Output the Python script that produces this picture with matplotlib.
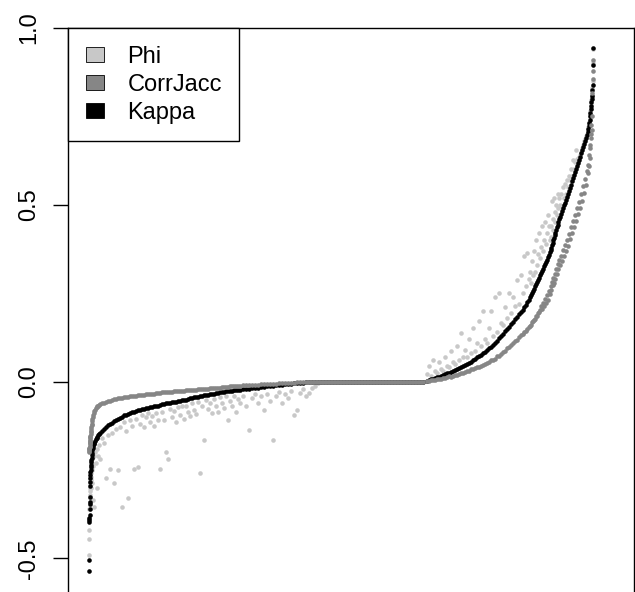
import matplotlib
matplotlib.use("Agg")
import matplotlib.pyplot as plt
from matplotlib.patches import Patch

plt.rcParams['font.family'] = ['Liberation Sans', 'DejaVu Sans']

# ---------------- data (pairs sorted by Kappa; x = rank) ----------------
rank = ([0, 1, 2, 3, 4, 5, 6, 7, 8, 9, 10, 11, 12, 13, 14, 15]
        + [17, 19, 21, 23, 25, 27]
        + [30, 33, 37, 42, 47, 53, 60, 67, 75, 83, 92, 101, 110]
        + list(range(130, 1511, 20))
        + list(range(1540, 2291, 30))
        + list(range(2320, 3341, 30))
        + list(range(3380, 4321, 20))
        + list(range(4335, 4411, 15))
        + list(range(4420, 4611, 10))
        + [4617, 4623, 4630, 4636, 4643, 4650, 4656, 4663, 4670, 4677, 4685, 4693, 4701]
        + list(range(4710, 4981, 10))
        + [4987, 4993, 4998, 5002, 5006, 5010, 5013, 5016, 5019, 5022, 5025, 5028]
        + [5034, 5037, 5040, 5043])

kappa_neg = [
    -0.536, -0.505, -0.398, -0.391, -0.385, -0.379, -0.360, -0.347, -0.340, -0.328,
    -0.296, -0.283, -0.272, -0.264, -0.257, -0.250,
    -0.243, -0.236, -0.229, -0.222, -0.215, -0.208,
    -0.201, -0.195, -0.189, -0.183, -0.178, -0.173, -0.168, -0.164, -0.160, -0.156,
    -0.152, -0.148, -0.145,
    -0.139, -0.134, -0.129, -0.124, -0.120, -0.116, -0.112, -0.108, -0.105, -0.102,
    -0.099, -0.096, -0.094, -0.091, -0.089, -0.087, -0.085, -0.083, -0.081, -0.080,
    -0.078, -0.077, -0.075, -0.074, -0.073, -0.071, -0.070, -0.069, -0.068, -0.066,
    -0.065, -0.064, -0.062, -0.061, -0.060, -0.059, -0.058, -0.057, -0.055, -0.054,
    -0.053, -0.052, -0.051, -0.049, -0.048, -0.047, -0.045, -0.044, -0.043, -0.042,
    -0.040, -0.039, -0.038, -0.037, -0.036, -0.035, -0.034, -0.033, -0.032, -0.031,
    -0.030, -0.029, -0.028, -0.027, -0.027, -0.026, -0.025, -0.024, -0.024, -0.023,
    -0.022, -0.021, -0.020, -0.019, -0.018, -0.017, -0.016, -0.015, -0.014, -0.013,
    -0.012, -0.011, -0.010, -0.009, -0.008, -0.007, -0.006, -0.005, -0.004, -0.004,
    -0.003, -0.002, -0.002, -0.001, -0.001, 0.000]

corrjacc_neg = [
    -0.200, -0.196, -0.192, -0.190, -0.187, -0.184, -0.181, -0.178, -0.175, -0.172,
    -0.168, -0.165, -0.161, -0.157, -0.153, -0.149,
    -0.144, -0.139, -0.134, -0.129, -0.124, -0.119,
    -0.113, -0.107, -0.101, -0.095, -0.089, -0.084, -0.080, -0.076, -0.073, -0.070,
    -0.068, -0.066, -0.064,
    -0.062, -0.060, -0.058, -0.056, -0.054, -0.052, -0.050, -0.049, -0.048, -0.047,
    -0.046, -0.045, -0.044, -0.043, -0.042, -0.041, -0.040, -0.040, -0.039, -0.038,
    -0.038, -0.037, -0.036, -0.036, -0.035, -0.034, -0.034, -0.033, -0.033, -0.032,
    -0.031, -0.031, -0.030, -0.030, -0.029, -0.029, -0.028, -0.028, -0.027, -0.027,
    -0.026, -0.026, -0.025, -0.025, -0.024, -0.024, -0.023, -0.023, -0.022, -0.022,
    -0.021, -0.021, -0.020, -0.020, -0.019, -0.019, -0.018, -0.018, -0.017, -0.017,
    -0.016, -0.016, -0.015, -0.015, -0.014, -0.014, -0.013, -0.013, -0.012, -0.012,
    -0.011, -0.011, -0.010, -0.010, -0.009, -0.009, -0.008, -0.008, -0.007, -0.007,
    -0.006, -0.006, -0.005, -0.005, -0.004, -0.004, -0.003, -0.003, -0.002, -0.002,
    -0.002, -0.001, -0.001, -0.001, 0.000, 0.000]

phi_neg = [
    -0.490, -0.446, -0.420, -0.390, -0.360, -0.350, -0.340, -0.330, -0.320, -0.310,
    -0.300, -0.290, -0.285, -0.280, -0.275, -0.270,
    -0.300, -0.260, -0.280, -0.240, -0.250, -0.230,
    -0.288, -0.220, -0.240, -0.335, -0.210, -0.354, -0.200, -0.230, -0.190, -0.300,
    -0.210, -0.180, -0.220,
    -0.160, -0.175, -0.273, -0.150, -0.248, -0.145, -0.286, -0.135, -0.250, -0.130,
    -0.354, -0.115, -0.140, -0.330, -0.110, -0.125, -0.248, -0.105, -0.242, -0.120,
    -0.095, -0.130, -0.100, -0.090, -0.115, -0.098, -0.125, -0.088, -0.108, -0.248,
    -0.085, -0.110, -0.200, -0.220, -0.078, -0.100, -0.082, -0.115, -0.072, -0.095,
    -0.070, -0.105, -0.068, -0.085, -0.098, -0.062, -0.080, -0.092, -0.058, -0.260,
    -0.070, -0.165, -0.052, -0.078, -0.062, -0.090, -0.050, -0.068, -0.085, -0.045,
    -0.060, -0.075, -0.042, -0.110, -0.055, -0.068, -0.040, -0.085, -0.050, -0.062,
    -0.042, -0.070, -0.137, -0.048, -0.035, -0.062, -0.040, -0.080, -0.034, -0.055,
    -0.165, -0.040, -0.030, -0.060, -0.036, -0.048, -0.026, -0.094, -0.080, -0.032,
    -0.022, -0.040, -0.032, -0.018, -0.012, -0.005]

kappa_zero = [0.0, 0.0, 0.0, 0.0, 0.0, 0.0, 0.0, 0.0, 0.0, 0.0,
              0.0, 0.0, 0.0, 0.0, 0.0, 0.0, 0.0, 0.0, 0.0, 0.0,
              0.0, 0.0, 0.0, 0.0, 0.0, 0.0, 0.0, 0.0, 0.0, 0.0,
              0.0, 0.0, 0.0, 0.0, 0.0]
corrjacc_zero = list(kappa_zero)
phi_zero = list(kappa_zero)

kappa_pos = [
    0.002, 0.004, 0.006, 0.008, 0.010, 0.012, 0.014, 0.016, 0.019, 0.021,
    0.023, 0.025, 0.027, 0.029, 0.032, 0.035, 0.038, 0.041, 0.044, 0.047,
    0.050, 0.053, 0.056, 0.060, 0.064, 0.068, 0.072, 0.076, 0.080, 0.084,
    0.089, 0.094, 0.099, 0.104, 0.110, 0.116, 0.122, 0.128, 0.135, 0.142,
    0.148, 0.155, 0.162, 0.169, 0.176, 0.183, 0.190, 0.197,
    0.203, 0.210, 0.217, 0.224, 0.231, 0.239,
    0.245, 0.251, 0.257, 0.263, 0.269, 0.275, 0.281, 0.288, 0.294, 0.300,
    0.306, 0.313, 0.319, 0.326, 0.332, 0.339, 0.345, 0.352, 0.358, 0.365,
    0.372, 0.379, 0.386, 0.393, 0.400, 0.407, 0.414, 0.421, 0.429, 0.437,
    0.444, 0.451, 0.459,
    0.466, 0.474, 0.482, 0.490, 0.498, 0.506, 0.514, 0.522, 0.530, 0.539,
    0.548, 0.557, 0.566, 0.575, 0.584, 0.592, 0.600, 0.609, 0.618, 0.627,
    0.636, 0.645, 0.654, 0.663, 0.672, 0.681, 0.690, 0.698,
    0.706, 0.713, 0.722, 0.731, 0.740, 0.750, 0.760, 0.770, 0.780, 0.790,
    0.800, 0.808,
    0.826, 0.840, 0.896, 0.944]

corrjacc_pos = [
    0.001, 0.002, 0.003, 0.004, 0.005, 0.006, 0.007, 0.008, 0.010, 0.011,
    0.012, 0.015, 0.014, 0.016, 0.019, 0.019, 0.021, 0.025, 0.025, 0.027,
    0.029, 0.030, 0.034, 0.034, 0.037, 0.041, 0.041, 0.044, 0.048, 0.050,
    0.053, 0.055, 0.060, 0.062, 0.065, 0.072, 0.073, 0.077, 0.083, 0.085,
    0.094, 0.097, 0.104, 0.108, 0.116, 0.118, 0.126, 0.131,
    0.133, 0.140, 0.142, 0.148, 0.153, 0.158,
    0.161, 0.167, 0.170, 0.175, 0.178, 0.184, 0.186, 0.193, 0.196, 0.201,
    0.214, 0.205, 0.222, 0.213, 0.232, 0.222, 0.246, 0.230, 0.255, 0.248,
    0.270, 0.258, 0.281, 0.272, 0.292, 0.279, 0.303, 0.291, 0.318, 0.305,
    0.333, 0.318, 0.345,
    0.331, 0.356, 0.342, 0.372, 0.355, 0.385, 0.368, 0.399, 0.383, 0.418,
    0.402, 0.437, 0.420, 0.455, 0.438, 0.472, 0.455, 0.490, 0.474, 0.509,
    0.492, 0.530, 0.511, 0.552, 0.533, 0.574, 0.556, 0.595,
    0.590, 0.612, 0.611, 0.640, 0.633, 0.668, 0.660, 0.700, 0.690, 0.725,
    0.712, 0.750,
    0.817, 0.856, 0.877, 0.910]

phi_pos = [
    0.020, 0.045, 0.015, 0.061, 0.030, 0.025, 0.055, 0.035, 0.030, 0.070,
    0.045, 0.040, 0.085, 0.055, 0.050, 0.100, 0.060, 0.137, 0.070, 0.090,
    0.070, 0.120, 0.080, 0.150, 0.085, 0.110, 0.170, 0.100, 0.200, 0.120,
    0.110, 0.150, 0.200, 0.130, 0.240, 0.140, 0.250, 0.165, 0.160, 0.210,
    0.180, 0.250, 0.195, 0.240, 0.215, 0.288, 0.220, 0.300,
    0.250, 0.354, 0.270, 0.363, 0.290, 0.310,
    0.280, 0.340, 0.300, 0.370, 0.310, 0.400, 0.330, 0.360, 0.420, 0.350,
    0.380, 0.440, 0.370, 0.400, 0.450, 0.390, 0.420, 0.470, 0.440, 0.400,
    0.440, 0.410, 0.510, 0.430, 0.460, 0.520, 0.450, 0.480, 0.500, 0.470,
    0.530, 0.490, 0.520,
    0.500, 0.530, 0.490, 0.550, 0.520, 0.560, 0.530, 0.570, 0.550, 0.580,
    0.570, 0.600, 0.580, 0.628, 0.600, 0.620, 0.656, 0.630, 0.625, 0.635,
    0.640, 0.650, 0.660, 0.670, 0.680, 0.685, 0.695, 0.700,
    0.710, 0.720, 0.725, 0.735, 0.745, 0.755, 0.765, 0.775, 0.785, 0.795,
    0.805, 0.810,
    0.830, 0.850, 0.900, 0.940]

kappa = kappa_neg + kappa_zero + kappa_pos
corrjacc = corrjacc_neg + corrjacc_zero + corrjacc_pos
phi = phi_neg + phi_zero + phi_pos

series_names = ["Phi", "CorrJacc", "Kappa"]
series_colors = ["#c8c8c8", "#868686", "#000000"]
ytick_vals = [-0.5, 0.0, 0.5, 1.0]
ytick_labels = ["-0.5", "0.0", "0.5", "1.0"]

# ---------------- figure ----------------
W, H = 635, 592
fig = plt.figure(figsize=(W / 100, H / 100), dpi=100)
ax = fig.add_axes([68 / W, 1 - 611.3 / H, 565.5 / W, 583.3 / H])
ax.set_xlim(-210, 5445)
ax.set_ylim(-0.65, 1.0)

ms = 3.3
ax.plot(rank, phi, 'o', ms=ms, mew=0, color=series_colors[0], zorder=2)
ax.plot(rank, kappa, 'o', ms=ms, mew=0, color=series_colors[2], zorder=3)
ax.plot(rank, corrjacc, 'o', ms=ms, mew=0, color=series_colors[1], zorder=4)

ax.set_xticks([])
ax.set_yticks(ytick_vals)
ax.set_yticklabels(ytick_labels)
ax.tick_params(axis='y', length=10.8, width=1.0, pad=9, labelsize=17,
               labelrotation=90, color='black')
for lab in ax.get_yticklabels():
    lab.set_va('center')
for sp in ax.spines.values():
    sp.set_color('black')
    sp.set_linewidth(1.0)

handles = [Patch(facecolor=c, edgecolor='black', linewidth=0.6) for c in series_colors]
leg = ax.legend(handles, series_names, loc='upper left', bbox_to_anchor=(0, 1),
                borderaxespad=0, frameon=True, fancybox=False, edgecolor='black',
                framealpha=1, fontsize=17, handlelength=0.76, handleheight=0.6,
                handletextpad=1.0, borderpad=0.75, labelspacing=0.25)
leg.get_frame().set_linewidth(1.0)
leg.set_zorder(10)

fig.savefig("out.png", dpi=100)
